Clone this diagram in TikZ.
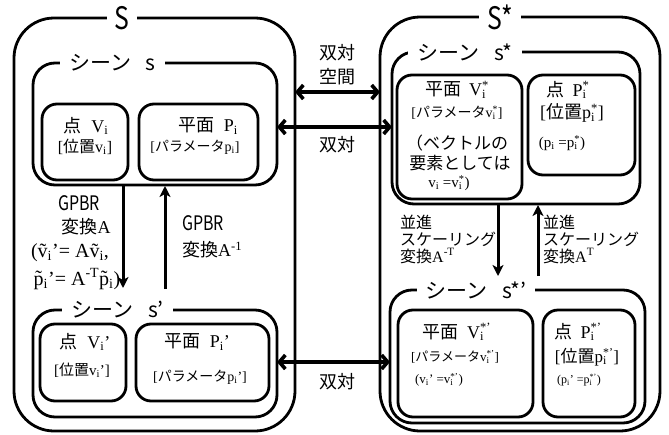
\documentclass[tikz,border=0pt]{standalone}
\usepackage{fontspec}
\usepackage{graphicx}
\setmainfont{Liberation Serif}
\newfontfamily\jp{Noto Sans CJK JP}
\usetikzlibrary{arrows.meta}
\newcommand\J[1]{{\jp #1}}
\newcommand\nar[1]{\scalebox{0.8}[1]{\jp #1}}
\newcommand\supb[2]{\setbox0\hbox{\textsuperscript{#1}}\setbox2\hbox{\textsubscript{#2}}\ifdim\wd0>\wd2 \rlap{\box2}\box0\else\rlap{\box0}\box2\fi}
\newcommand\fs[1]{\fontsize{#1}{#1}\selectfont}
\tikzset{
  bigbox/.style={draw, line width=2.8pt, rounded corners=40pt, inner sep=0pt, outer sep=0pt},
  scenebox/.style={draw, line width=2.8pt, rounded corners=22pt, inner sep=0pt, outer sep=0pt},
  itembox/.style={draw, line width=2.8pt, rounded corners=15pt, inner sep=0pt, outer sep=0pt},
  ttl/.style={fill=white, inner xsep=9pt, inner ysep=2pt},
  t/.style={inner sep=0pt},
  dualarr/.style={line width=3.6pt, {Straight Barb[length=6pt,width=14pt]}-{Straight Barb[length=6pt,width=14pt]}},
  varr/.style={line width=3pt, -{Stealth[length=11pt,width=11pt,inset=3pt]}}
}
\begin{document}
\begin{tikzpicture}[x=1pt,y=-1pt]
\useasboundingbox[fill=white] (0,0) rectangle (669,434);
% outer spaces
\node[bigbox, minimum width=281pt, minimum height=413pt] (S) at (154.5,224.5) {};
\node[bigbox, minimum width=280pt, minimum height=414pt] (Ss) at (520,224) {};
% scenes
\node[scenebox, minimum width=244pt, minimum height=122pt] (sc1) at (155,124) {};
\node[scenebox, minimum width=244pt, minimum height=107pt] (sc2) at (155,363.5) {};
\node[scenebox, minimum width=248pt, minimum height=152pt] (sc3) at (516,128) {};
\node[scenebox, minimum width=255pt, minimum height=133pt] (sc4) at (517.5,356.5) {};
% items
\node[itembox, minimum width=86pt, minimum height=76pt] (Vi) at (85,142) {};
\node[itembox, minimum width=119pt, minimum height=76pt] (Pi) at (198.5,142) {};
\node[itembox, minimum width=86pt, minimum height=77pt] (Vip) at (83,362.5) {};
\node[itembox, minimum width=133pt, minimum height=77pt] (Pip) at (202.5,362.5) {};
\node[itembox, minimum width=125pt, minimum height=124pt] (Vs) at (459.5,137) {};
\node[itembox, minimum width=107pt, minimum height=100pt] (Ps) at (581.5,125) {};
\node[itembox, minimum width=135pt, minimum height=107pt] (Vsp) at (465.5,363.5) {};
\node[itembox, minimum width=92pt, minimum height=107pt] (Psp) at (589,363.5) {};
% titles
\node[ttl, inner xsep=8pt] (tS) at (122,18) {\fs{31}\nar{S}};
\node[ttl, inner xsep=8pt] (tSs) at (500,17) {\fs{31}\nar{S*}};
\node[ttl] (tsc1) at (112.5,63) {\fs{21}\J{シーン\hspace{0.7em}s}};
\node[ttl] (tsc2) at (117.5,310) {\fs{21}\J{シーン\hspace{0.7em}s’}};
\node[ttl] (tsc3) at (465,52) {\fs{21}\J{シーン\hspace{0.7em}s*}};
\node[ttl] (tsc4) at (476,290) {\fs{21}\J{シーン\hspace{0.7em}s*’}};
% connectors
\coordinate (yA) at (0,92);
\coordinate (yB) at (0,127);
\coordinate (yC) at (0,362);
\draw[dualarr] (S.east |- yA) -- (Ss.west |- yA);
\draw[dualarr] (sc1.east |- yB) -- (sc3.west |- yB);
\draw[dualarr] (sc2.east |- yC) -- (sc4.west |- yC);
\coordinate (dA) at (123,288);
\coordinate (uA) at (165,289);
\coordinate (dB) at (498,276);
\coordinate (uB) at (538,276);
\draw[varr] (sc1.south -| dA) -- (dA);
\draw[varr, shorten >=1pt] (uA) -- (sc1.south -| uA);
\draw[varr] (sc3.south -| dB) -- (dB);
\draw[varr, shorten >=1pt] (uB) -- (sc3.south -| uB);
% left scene texts
\node[t] (l1) at (86,126) {\fs{18}\J{点}\hspace{0.55em}V\textsubscript{i}};
\node[t] (l2) at (85,147) {\fs{16}[\J{位置}v\textsubscript{i}]};
\node[t] (l3) at (208,126) {\fs{18}\J{平面}\hspace{0.55em}P\textsubscript{i}};
\node[t] (l4) at (195,147) {\fs{14}[\J{パラメータ}p\textsubscript{i}]};
\node[t] (l5) at (85,342) {\fs{18}\J{点}\hspace{0.55em}V\textsubscript{i}’};
\node[t] (l6) at (82,370) {\fs{15}[\J{位置}v\textsubscript{i}’]};
\node[t] (l7) at (197,342) {\fs{18}\J{平面}\hspace{0.55em}P\textsubscript{i}’};
\node[t] (l8) at (200,377) {\fs{14}[\J{パラメータ}p\textsubscript{i}’]};
% GPBR labels
\node[t] (g1) at (79,203) {\fs{20}\nar{GPBR}};
\node[t] (g2) at (86,227) {\fs{18}\J{変換}A};
\node[t] (g3) at (70,253) {\fs{20}(ṽ\textsubscript{i}’= Aṽ\textsubscript{i},};
\node[t] (g4) at (77,279) {\fs{20}p̃\textsubscript{i}’= A\textsuperscript{-T}p̃\textsubscript{i})};
\node[t, anchor=west] (h1) at (182,223) {\fs{20}\nar{GPBR}};
\node[t, anchor=west] (h2) at (182,250) {\fs{18}\J{変換}A\textsuperscript{-1}};
% dual labels
\node[t] (d1) at (337,53) {\fs{18}\J{双対}};
\node[t] (d2) at (337,77) {\fs{18}\J{空間}};
\node[t] (d3) at (337,145) {\fs{18}\J{双対}};
\node[t] (d4) at (337,382) {\fs{18}\J{双対}};
% translation scaling labels
\node[t, anchor=west] (r1) at (400,222) {\fs{16}\J{並進}};
\node[t, anchor=west] (r2) at (400,239) {\fs{16}\J{スケーリング}};
\node[t, anchor=west] (r3) at (400,256) {\fs{16}\J{変換}A\textsuperscript{-T}};
\node[t, anchor=west] (q1) at (543,222) {\fs{16}\J{並進}};
\node[t, anchor=west] (q2) at (543,239) {\fs{16}\J{スケーリング}};
\node[t, anchor=west] (q3) at (543,256) {\fs{16}\J{変換}A\textsuperscript{T}};
% right scene texts
\node[t] (v1) at (457,90) {\fs{18}\J{平面}\hspace{0.45em}V\supb{*}{i}};
\node[t] (v2) at (457,113) {\fs{14}[\J{パラメータ}v\supb{*}{i}]};
\node[t] (v3) at (457,143) {\fs{17}\J{（ベクトルの}};
\node[t] (v4) at (460,163) {\fs{17}\J{要素としては}};
\node[t] (v5) at (449,183) {\fs{15}v\textsubscript{i} =v\supb{*}{i})};
\node[t] (p1) at (568,90) {\fs{18}\J{点}\hspace{0.45em}P\supb{*}{i}};
\node[t] (p2) at (572,113) {\fs{18}[\J{位置}p\supb{*}{i}]};
\node[t] (p3) at (562,143) {\fs{15}(p\textsubscript{i} =p\supb{*}{i})};
\node[t] (w1) at (457,332) {\fs{18}\J{平面}\hspace{0.45em}V\supb{*’}{i}};
\node[t] (w2) at (455,357) {\fs{13}[\J{パラメータ}v\supb{*’}{i}]};
\node[t] (w3) at (439,380) {\fs{13}(v\textsubscript{i}’ =v\supb{*’}{i})};
\node[t] (x1) at (578,332) {\fs{18}\J{点}\hspace{0.45em}P\supb{*’}{i}};
\node[t] (x2) at (587,357) {\fs{17}[\J{位置}p\supb{*’}{i}]};
\node[t] (x3) at (579,380) {\fs{12}(p\textsubscript{i}’ =p\supb{*’}{i})};
\end{tikzpicture}
\end{document}
